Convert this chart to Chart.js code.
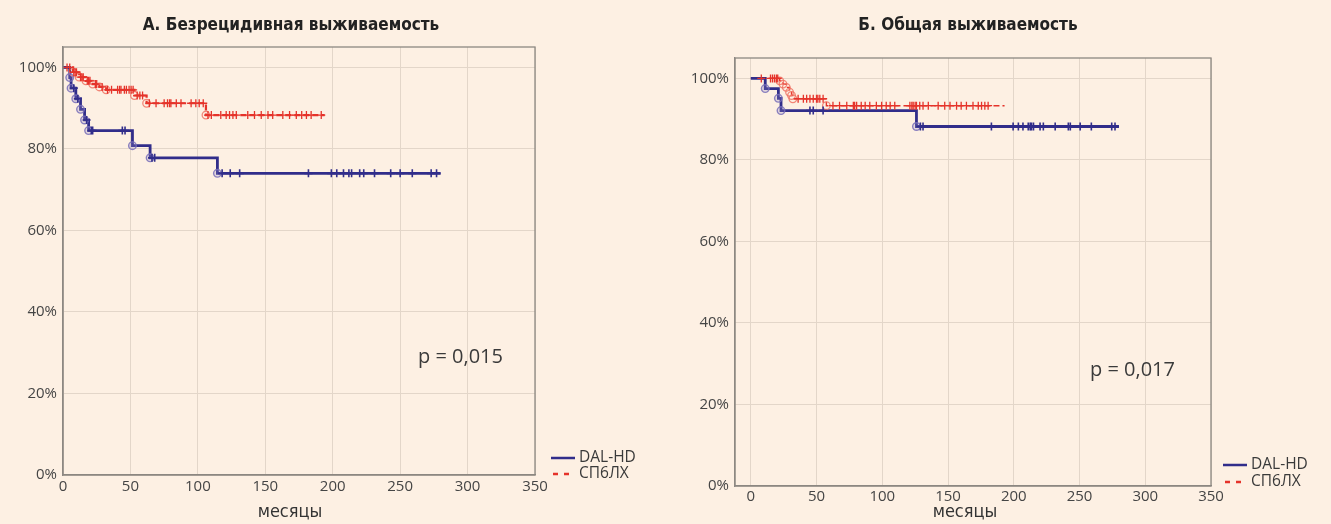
<!DOCTYPE html>
<html><head><meta charset="utf-8">
<script src="https://cdn.jsdelivr.net/npm/chart.js@4/dist/chart.umd.min.js"></script>
<style>
html,body{margin:0;padding:0;background:#fdf0e3;width:1331px;height:524px;overflow:hidden}
canvas{position:absolute;top:0}
#c1{left:0}#c2{left:665px}
</style></head><body>
<canvas id="c1" width="665" height="524"></canvas>
<canvas id="c2" width="666" height="524"></canvas>
<script>
// ---- tick labels ----
const xTicks = [0, 50, 100, 150, 200, 250, 300, 350];
const yTicks = [0, 20, 40, 60, 80, 100];
const seriesNames = ['DAL-HD', 'СП6ЛХ'];
const titles = ['А. Безрецидивная выживаемость', 'Б. Общая выживаемость'];
const pValues = ['p = 0,015', 'p = 0,017'];
const xAxisTitle = 'месяцы';

// ---- A: relapse-free survival ----
const dalRfsT = [0, 5, 6, 9.5, 13, 16, 19, 51.5, 64.6, 114.5, 280];
const dalRfsS = [100, 97.5, 94.9, 92.3, 89.7, 87.1, 84.5, 80.8, 77.8, 74.0, 74.0];
const dalRfsCens = [8, 11, 17.5, 21, 22, 44, 46, 66, 68, 118, 124, 131, 182, 199, 203, 208, 212, 214, 220, 223, 231, 243, 250, 259, 273, 277];
const spbRfsT = [0, 7.5, 12, 17, 22, 27, 32, 53, 62, 106, 194];
const spbRfsS = [100, 98.8, 97.6, 96.7, 95.9, 95.2, 94.5, 93.1, 91.2, 88.3, 88.3];
const spbRfsCens = [3, 5, 8, 9, 10, 13, 14, 15, 18, 19, 20, 24, 25, 29, 33, 36, 40.5, 42, 43, 45.5, 47, 49, 50.5, 52, 55, 57, 59, 64, 69, 75, 77.5, 79, 80, 84, 87.5, 95, 98.5, 101, 104, 107.5, 110, 117, 121, 123.5, 126, 128.5, 137, 142, 147, 152, 155.5, 163, 168, 173, 177, 180.5, 184, 191.5];

// ---- B: overall survival ----
const dalOsT = [0, 11, 21, 23, 126, 280];
const dalOsS = [100, 97.5, 95.1, 92.1, 88.2, 88.2];
const dalOsCens = [45, 47.5, 55, 129, 131, 183, 199.5, 203.5, 207, 211, 212.5, 213.5, 215, 220, 222.5, 231.5, 241.5, 243, 250.5, 259, 274.5, 277];
const spbOsT = [0, 22, 24.5, 27, 29.5, 31, 32, 57.5, 193];
const spbOsS = [100, 99.4, 98.6, 97.8, 96.6, 95.8, 95.0, 93.3, 93.3];
const spbOsCens = [8, 15, 16.5, 18, 19.5, 20.5, 36, 40, 42.5, 45, 47.5, 50, 51, 52.5, 55, 62.5, 67.5, 73, 78, 79, 80.5, 84, 87, 90.5, 95.5, 99.5, 103, 106, 109.5, 121, 122.5, 123.5, 125, 126, 128.5, 131, 135, 142.5, 147.5, 151.5, 156.5, 160, 164, 169, 173, 175.5, 178, 180.5];

const BLUE = '#312d8a', RED = '#e5332a';
const BLUE_C = 'rgba(120,110,185,0.85)', RED_C = 'rgba(240,115,100,0.85)';
const GRID = '#e3d6c9', BORDER = '#8d8882', TXT = '#454545';
const NARROW = '"DejaVu Sans Condensed", "DejaVu Sans"';

const toXY = (T, S) => T.map((t, i) => ({x: t, y: S[i]}));
const survAt = (T, S, t) => { let s = S[0]; for (let i = 0; i < T.length; i++) if (T[i] <= t) s = S[i]; return s; };
const cens = (T, S, C) => C.map(t => ({x: t, y: survAt(T, S, t)}));
const events = (T, S) => T.slice(1, -1).map((t, i) => ({x: t, y: S[i + 1]}));

const overlay = {
  id: 'overlay',
  afterDraw(chart, args, o) {
    const {ctx, chartArea: a} = chart;
    ctx.save();
    ctx.strokeStyle = BORDER; ctx.lineWidth = 1.3;
    ctx.strokeRect(a.left, a.top, a.right - a.left, a.bottom - a.top);
    ctx.fillStyle = '#222';
    ctx.font = 'bold 17px ' + NARROW;
    ctx.textAlign = 'center'; ctx.textBaseline = 'middle';
    ctx.fillText(o.title, o.titleX, o.titleY);
    ctx.fillStyle = '#333';
    ctx.font = '18px ' + NARROW;
    ctx.fillText(xAxisTitle, o.axX, o.axY);
    ctx.textAlign = 'left';
    ctx.fillStyle = '#3a3a3a';
    ctx.font = '20px "Open Sans"';
    ctx.fillText(o.p, o.pX, o.pY);
    // legend
    ctx.lineWidth = 2.5; ctx.strokeStyle = BLUE; ctx.setLineDash([]);
    ctx.beginPath(); ctx.moveTo(o.lgX, o.lgY1); ctx.lineTo(o.lgX + 24, o.lgY1); ctx.stroke();
    ctx.strokeStyle = RED; ctx.setLineDash([5, 6]);
    ctx.beginPath(); ctx.moveTo(o.lgX + 2, o.lgY2); ctx.lineTo(o.lgX + 24, o.lgY2); ctx.stroke();
    ctx.setLineDash([]);
    ctx.fillStyle = '#3a3a3a'; ctx.font = '15.5px "Open Sans"';
    ctx.fillText(seriesNames[0], o.lgX + 28, o.lgY1);
    ctx.fillText(seriesNames[1], o.lgX + 28, o.lgY2);
    ctx.restore();
  }
};

function makeChart(id, d) {
  return new Chart(document.getElementById(id), {
    type: 'line',
    data: {datasets: [
      {data: cens(d.bT, d.bS, d.bC), showLine: false, pointStyle: 'cross', pointRadius: 4, pointBorderWidth: 1.6, borderColor: BLUE, pointBorderColor: BLUE},
      {data: cens(d.rT, d.rS, d.rC), showLine: false, pointStyle: 'cross', pointRadius: 4, pointBorderWidth: 1.3, borderColor: RED, pointBorderColor: RED},
      {data: events(d.bT, d.bS), showLine: false, pointStyle: 'circle', pointRadius: 3.8, pointBorderWidth: 1.4, pointBorderColor: BLUE_C, pointBackgroundColor: 'rgba(150,140,200,0.25)'},
      {data: events(d.rT, d.rS), showLine: false, pointStyle: 'circle', pointRadius: 3.8, pointBorderWidth: 1.3, pointBorderColor: RED_C, pointBackgroundColor: 'rgba(0,0,0,0)'},
      {data: toXY(d.bT, d.bS), stepped: true, borderColor: BLUE, borderWidth: 2.8, pointRadius: 0, fill: false},
      {data: toXY(d.rT, d.rS), stepped: true, borderColor: RED, borderWidth: d.rw, borderDash: [6, 3], pointRadius: 0, fill: false}
    ]},
    options: {
      responsive: false, animation: false, devicePixelRatio: 1,
      layout: {padding: d.pad},
      plugins: {legend: {display: false}, tooltip: {enabled: false}, overlay: d.ov},
      scales: {
        x: {type: 'linear', min: d.xmin, max: 350,
          afterBuildTicks: s => { s.ticks = xTicks.map(v => ({value: v})); },
          afterFit: s => { s.height = d.xh; },
          grid: {color: GRID, drawTicks: false, lineWidth: 1},
          border: {color: BORDER, width: 1.3},
          ticks: {padding: d.xpad, color: TXT, font: {family: 'Open Sans', size: 15}, maxRotation: 0, autoSkip: false}},
        y: {type: 'linear', min: 0, max: 105,
          afterBuildTicks: s => { s.ticks = yTicks.map(v => ({value: v})); },
          afterFit: s => { s.width = d.yw; },
          grid: {color: GRID, drawTicks: false, lineWidth: 1},
          border: {color: BORDER, width: 1.3},
          ticks: {padding: 6, color: TXT, font: {family: 'Open Sans', size: 15}, callback: v => v + '%'}}
      }
    },
    plugins: [overlay]
  });
}

makeChart('c1', {
  bT: dalRfsT, bS: dalRfsS, bC: dalRfsCens, rT: spbRfsT, rS: spbRfsS, rC: spbRfsCens, rw: 2.2,
  xmin: 0, xh: 49, yw: 63, xpad: 3, pad: {left: 0, top: 47, right: 130, bottom: 0},
  ov: {title: titles[0], titleX: 291, titleY: 26, axX: 290, axY: 512, p: pValues[0], pX: 418, pY: 357, lgX: 551, lgY1: 458, lgY2: 474}
});
makeChart('c2', {
  bT: dalOsT, bS: dalOsS, bC: dalOsCens, rT: spbOsT, rS: spbOsS, rC: spbOsCens, rw: 1.4,
  xmin: -12, xh: 38, yw: 70, xpad: 2, pad: {left: 0, top: 58, right: 120, bottom: 0},
  ov: {title: titles[1], titleX: 303, titleY: 26, axX: 300, axY: 512, p: pValues[1], pX: 425, pY: 370, lgX: 558, lgY1: 465, lgY2: 482}
});
</script>
</body></html>
